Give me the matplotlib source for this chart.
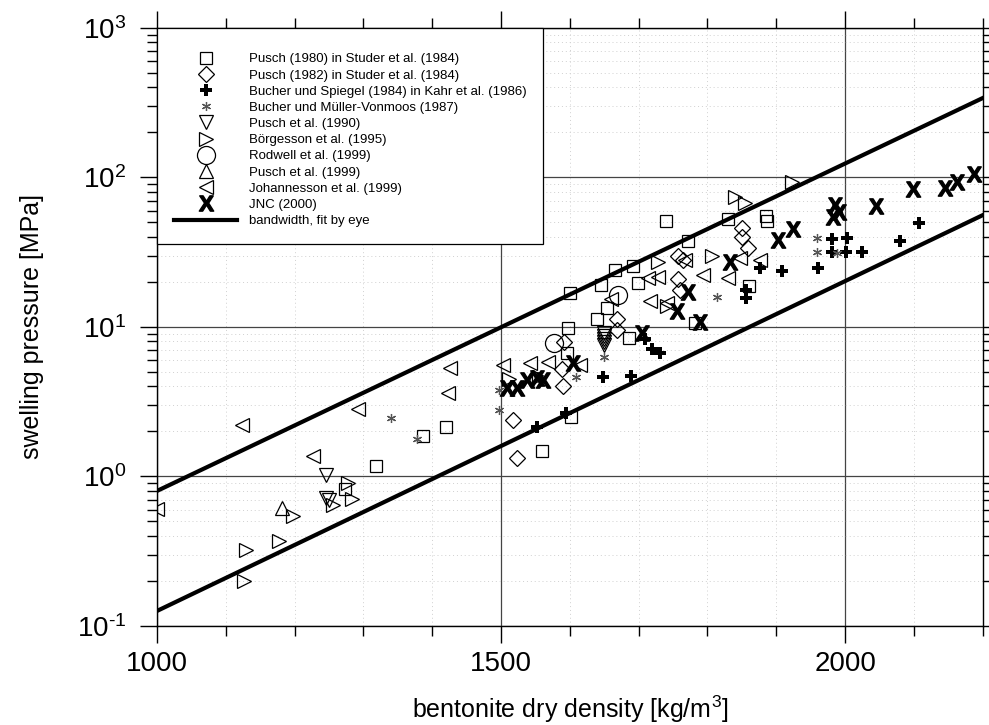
#swelling pressure vs bentonite dry density
import numpy as np
import matplotlib
matplotlib.use("Agg")
import matplotlib.pyplot as plt
from matplotlib.ticker import MultipleLocator, LogLocator, NullFormatter, FuncFormatter

plt.rcParams['font.family'] = ['Liberation Sans', 'DejaVu Sans']
plt.rcParams['mathtext.fontset'] = 'custom'
plt.rcParams['mathtext.rm'] = 'Liberation Sans'
plt.rcParams['mathtext.bf'] = 'Liberation Sans:bold'
plt.rcParams['mathtext.default'] = 'regular'

#Pusch (1980) in Studer et al. (1984)
pusch80_x = [1273, 1318, 1387, 1420, 1560, 1602, 1596, 1597, 1686, 1640, 1654, 1600,
             1645, 1699, 1666, 1692, 1740, 1772, 1782, 1830, 1860, 1885, 1887]
pusch80_y = [0.82, 1.18, 1.87, 2.14, 1.48, 2.5, 6.7, 9.8, 8.4, 11.3, 13.4, 16.9,
             19.1, 19.6, 24, 25.6, 51, 37.6, 10.6, 53, 18.8, 55, 51]
#Pusch (1982) in Studer et al. (1984)
pusch82_x = [1517, 1523, 1590, 1589, 1592, 1669, 1669, 1757, 1765, 1757, 1760, 1850, 1850, 1859]
pusch82_y = [2.4, 1.33, 4.0, 5.2, 7.9, 11.3, 9.5, 30, 28, 20.8, 17.7, 46, 40, 34]
#Bucher und Spiegel (1984) in Kahr et al. (1986)
bucher84_x = [1552, 1594, 1648, 1689, 1709, 1719, 1731, 1856, 1856, 1876, 1908, 1961,
              1981, 1981, 2003, 2001, 2025, 2080, 2108]
bucher84_y = [2.14, 2.66, 4.6, 4.7, 8.3, 7.1, 6.7, 17.7, 15.6, 24.8, 23.7, 24.8,
              38.8, 31.8, 39.4, 31.8, 31.8, 37.6, 49.6]
#Bucher und Mueller-Vonmoos (1987)
bucher87_x = [1340, 1378, 1497, 1497, 1609, 1650, 1814, 1959, 1959, 1988]
bucher87_y = [2.46, 1.78, 3.8, 2.8, 4.6, 6.3, 15.9, 39.4, 31.8, 31.3]
#Pusch et al. (1990)
pusch90_x = [1246, 1246, 1250, 1650, 1650, 1650, 1650, 1650]
pusch90_y = [1.02, 0.72, 0.70, 9.1, 8.7, 8.3, 7.9, 7.6]
#Boergesson et al. (1995)
boerg_x = [1129, 1126, 1177, 1198, 1256, 1278, 1283, 1512, 1555, 1728, 1807, 1741,
           1840, 1855, 1923]
boerg_y = [0.32, 0.20, 0.37, 0.54, 0.64, 0.90, 0.71, 4.5, 4.6, 27, 30, 13.8,
           74, 67, 93]
#Rodwell et al. (1999)
rodwell_x = [1577, 1670]
rodwell_y = [7.8, 16.4]
#Pusch et al. (1999)
pusch99_x = [1182]
pusch99_y = [0.62]
#Johannesson et al. (1999)
johan_x = [1000, 1124, 1227, 1292, 1426, 1423, 1503, 1542, 1568, 1615, 1660, 1767,
           1714, 1728, 1794, 1830, 1847, 1876, 1717, 1741]
johan_y = [0.61, 2.2, 1.37, 2.83, 5.3, 3.6, 5.57, 5.74, 5.83, 5.57, 15.5, 28,
           21.3, 21.6, 22.3, 21.3, 28.9, 28.1, 14.9, 14.5]
#JNC (2000)
jnc_x = [1509, 1523, 1538, 1552, 1561, 1605, 1705, 1756, 1772, 1789, 1833, 1903,
         1924, 1985, 1983, 1991, 2045, 2099, 2145, 2163, 2187]
jnc_y = [3.91, 3.9, 4.42, 4.56, 4.42, 5.74, 9.1, 12.8, 17.1, 10.8, 27.2, 38.2,
         45, 65, 54, 59, 64, 84, 85, 93, 105]
#bandwidth, fit by eye
band_x = [1000, 2200]
band_upper = [0.8, 340]
band_lower = [0.126, 56]

fig = plt.figure(figsize=(9.89, 7.25), dpi=100)
ax = fig.add_axes([0.1587, 0.1366, 0.835, 0.8248])

ms_kw = dict(linestyle='none', markerfacecolor='none', markeredgecolor='black', markeredgewidth=0.9)
ax.plot(pusch80_x, pusch80_y, marker='s', markersize=9, label="Pusch (1980) in Studer et al. (1984)", **ms_kw)
ax.plot(pusch82_x, pusch82_y, marker='D', markersize=8.5, label="Pusch (1982) in Studer et al. (1984)", **ms_kw)
ax.plot(bucher84_x, bucher84_y, marker='P', markersize=8, linestyle='none', color='black',
        markeredgewidth=0, label="Bucher und Spiegel (1984) in Kahr et al. (1986)")
ax.plot(bucher87_x, bucher87_y, marker=(6, 2, 0), markersize=6.5, linestyle='none', color='#555555',
        markeredgewidth=0.9, label="Bucher und Müller-Vonmoos (1987)")
ax.plot(pusch90_x, pusch90_y, marker='v', markersize=10, label="Pusch et al. (1990)", **ms_kw)
ax.plot(boerg_x, boerg_y, marker='>', markersize=10, label="Börgesson et al. (1995)", **ms_kw)
ax.plot(rodwell_x, rodwell_y, marker='o', markersize=13, label="Rodwell et al. (1999)", **ms_kw)
ax.plot(pusch99_x, pusch99_y, marker='^', markersize=10, label="Pusch et al. (1999)", **ms_kw)
ax.plot(johan_x, johan_y, marker='<', markersize=10, label="Johannesson et al. (1999)", **ms_kw)
ax.plot(jnc_x, jnc_y, marker=r'$\mathbf{X}$', markersize=11, linestyle='none', color='black',
        label="JNC (2000)")
ax.plot(band_x, band_upper, color='black', linewidth=3, label="bandwidth, fit by eye")
ax.plot(band_x, band_lower, color='black', linewidth=3)

ax.set_yscale('log')
ax.set_xlim(1000, 2200)
ax.set_ylim(0.1, 1000)
ax.xaxis.set_major_locator(MultipleLocator(500))
ax.xaxis.set_minor_locator(MultipleLocator(100))
ax.yaxis.set_major_locator(LogLocator(base=10, numticks=10))
ax.yaxis.set_minor_locator(LogLocator(base=10, subs=np.arange(2, 10), numticks=20))
ax.yaxis.set_minor_formatter(NullFormatter())
#short hyphen in the exponent, like the original
ax.yaxis.set_major_formatter(FuncFormatter(
    lambda v, pos: "$10^{%s}$" % ("%d" % round(np.log10(v))).replace("-", "\u2010")))

ax.grid(True, which='major', color='#444444', linewidth=0.9, linestyle='-')
ax.grid(True, which='minor', color='#d0d0d0', linewidth=0.7, linestyle=(0, (1, 3)))
ax.set_axisbelow(True)

ax.tick_params(which='both', direction='out', top=True, right=True, labelsize=20, width=1)
ax.tick_params(which='major', length=12)
ax.tick_params(which='minor', length=7)
ax.tick_params(axis='x', which='major', pad=6)
ax.tick_params(axis='y', which='major', pad=10)
for s in ax.spines.values():
    s.set_linewidth(1)

ax.set_xlabel("bentonite dry density [kg/m$^3$]", fontsize=18, labelpad=12)
ax.set_ylabel("swelling pressure [MPa]", fontsize=18, labelpad=24)

leg = ax.legend(loc='upper left', bbox_to_anchor=(0, 1), borderaxespad=0, fontsize=9.5,
                frameon=True, fancybox=False, edgecolor='black', framealpha=1,
                handlelength=4.8, handletextpad=0.85, labelspacing=0.3, borderpad=1.3,
                numpoints=1, title=" ", title_fontsize=3)
leg.get_frame().set_linewidth(0.9)
leg.set_zorder(5)

plt.savefig("out.png", dpi=100)
